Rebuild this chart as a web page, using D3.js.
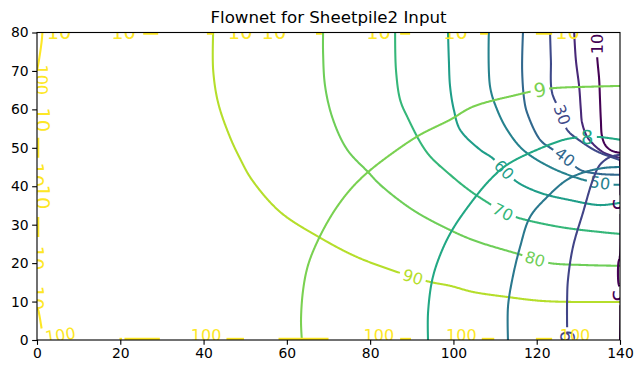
<!DOCTYPE html>
<html>
<head>
<meta charset="utf-8">
<script src="https://cdn.jsdelivr.net/npm/d3@7"></script>
<style>
  body { margin: 0; background: #fff; }
  svg { font-family: "DejaVu Sans", sans-serif; }
</style>
</head>
<body>
<svg id="chart" width="641" height="374"></svg>
<script>
// Axis ticks
const xTicks = [0, 20, 40, 60, 80, 100, 120, 140];
const yTicks = [0, 10, 20, 30, 40, 50, 60, 70, 80];

// Contour levels (two sets, each with its own viridis range)
const headLevels = [5, 6, 7, 8, 9, 10];
const streamLevels = [10, 20, 30, 40, 50, 60, 70, 80, 90, 100];

// Stream lines, points [x, y]
const stream10 = [[134.5, 80], [134.5, 74.1], [135.0, 67.7], [135.2, 62.5], [135.4, 57.3], [135.7, 52.9], [136.6, 50.5], [138.1, 49.2], [140, 48.7]];
const stream20 = [[129.0, 80], [129.4, 72.9], [130.2, 65.9], [130.6, 59.9], [130.9, 56.5], [132.1, 52.9], [134.0, 50.5], [135.9, 48.9], [138.1, 47.9], [140, 47.4]];
const stream30 = [[123.2, 80], [123.4, 72.9], [123.7, 64.3], [126.1, 58.6], [127.3, 54.7], [131.1, 51.3], [134.6, 49.0], [140, 46.8]];
const stream40 = [[116.7, 80], [116.5, 70.3], [117.0, 62.5], [117.7, 59.1], [120.8, 52.1], [123.5, 49.8], [126.8, 47.6], [130.4, 44.3], [135.2, 43.2], [140, 43.0]];
const stream50 = [[108.5, 80], [108.8, 65.9], [110.5, 59.9], [112.9, 54.7], [116.7, 49.5], [123.2, 45.0], [131.1, 41.7], [135.2, 40.9], [138.8, 40.4], [140, 40.4]];
const stream60 = [[98.7, 80], [98.9, 72.9], [99.2, 65.9], [100.1, 59.9], [101.6, 54.7], [106.4, 49.5], [109.3, 47.4], [112.2, 44.3], [115.3, 41.1], [120.8, 38.3], [128.0, 36.4], [135.2, 35.1], [140, 35.7]];
const stream70 = [[86.0, 80], [86.2, 70.3], [87.2, 62.5], [88.9, 58.1], [93.7, 48.7], [99.2, 43.0], [104.0, 38.8], [108.3, 35.7], [111.9, 33.3], [115.5, 31.8], [125.6, 29.4], [135.2, 28.1], [140, 27.6]];
const stream80 = [[68.7, 80], [68.7, 74.7], [69.2, 65.9], [71.1, 57.3], [74.5, 49.5], [79.5, 43.7], [82.4, 40.4], [90.3, 33.8], [99.2, 28.6], [105.2, 25.8], [115.5, 22.4], [119.6, 21.1], [123.2, 20.0], [131.6, 19.5], [140, 19.3]];
const stream90 = [[42.3, 80], [42.3, 70.3], [43.5, 61.7], [46.3, 52.9], [48.8, 47.1], [51.6, 41.7], [58.4, 33.3], [68.0, 26.6], [76.8, 21.6], [86.5, 17.7], [90.3, 16.4], [94.4, 15.1], [99.2, 14.1], [104.7, 12.5], [112.9, 11.2], [120.8, 10.2], [128.7, 9.9], [140, 9.9]];
const stream100Corner = [[0, 8.5], [0.3, 7.8], [1.1, 3.0]];

// Equipotential lines
const head5 = [[140, 47], [140, 22], [139.6, 20], [139.6, 15], [140, 13], [140, 0]];
const head6 = [[127.4, 0], [127.3, 3.6], [127.3, 10.4], [127.5, 15.6], [128.7, 24.2], [131.1, 33.1], [133.5, 41.7], [135.2, 45.6], [137.6, 47.6], [140, 48.2]];
const head7 = [[113.1, 0], [113.1, 8.6], [114.1, 15.6], [116.0, 24.2], [118.4, 32.0], [122.5, 37.2], [127.3, 41.7], [131.6, 43.7], [136.4, 44.8], [140, 45.0]];
const head8 = [[93.9, 0], [93.9, 7.0], [94.9, 15.6], [96.8, 22.1], [99.7, 28.6], [104.7, 36.4], [108.8, 41.7], [112.9, 45.6], [120.1, 49.5], [127.3, 52.3], [132.1, 52.8], [135.2, 52.8], [140, 52.1]];
const head9 = [[63.6, 0], [63.4, 5.2], [63.9, 13.0], [65.1, 19.5], [67.5, 26.0], [71.1, 33.1], [75.2, 39.1], [79.5, 43.7], [86.5, 49.5], [92.0, 53.4], [99.2, 57.3], [104.7, 60.7], [115.3, 63.8], [120.8, 65.1], [124.9, 65.6], [132.8, 65.9], [140, 66.1]];
const head10Corner = [[1.3, 80], [1.1, 77.5], [0.5, 73], [0, 70]];

// Inline label positions on the lines
const stream10Labels = [[134.5, 77.0]];
const stream30Labels = [[126.1, 58.6]];
const stream40Labels = [[126.8, 47.6]];
const stream50Labels = [[135.2, 40.9]];
const stream60Labels = [[112.2, 44.3]];
const stream70Labels = [[111.9, 33.3]];
const stream80Labels = [[119.6, 21.1]];
const stream90Labels = [[90.3, 16.4]];
const head5Labels = [[140, 35.2], [140, 11.5]];
const head6Labels = [[127.4, 0.9]];
const head8Labels = [[132.1, 52.8]];
const head9Labels = [[120.8, 65.1]];

// Boundary contours (10 along top/left, 100 along bottom/left): visible bits and labels
const topBits = [[25.5, 29.1], [40.8, 42.3], [67.0, 68.4], [87.2, 89.6], [106.4, 108.3], [119.8, 123.7]];
const bottomBits = [[19.8, 20.4], [21.0, 29.5], [45.5, 49.7], [58.0, 70.0], [87.2, 89.8], [106.8, 109.8], [119.8, 123.7]];
const leftBits = [[47.4, 52.6], [26.8, 32.0]];
const topLabelX = [5.3, 20.8, 48.8, 56.9, 82.0, 100.5, 127.4];
const bottomLabelX = [5.6, 40.6, 82.1, 101.9, 129.2];
const leftHeadLabelY = [[57.3, 1.5], [43.0, 0], [37.2, 1.5], [21.3, 0], [10.9, 0]];
const leftStreamLabelY = [[67.7, 1.2]];

const headFont = 19.4;
const streamFont = 16;
const lineWidth = 2.08;   // 1.5pt
const spineWidth = 1.11;  // 0.8pt

const svg = d3.select("#chart");
const x = d3.scaleLinear().domain([0, 140]).range([37, 620]);
const y = d3.scaleLinear().domain([0, 80]).range([340, 32.5]);

const streamColor = d3.scaleSequential(d3.interpolateViridis).domain(d3.extent(streamLevels));
const headColor = d3.scaleSequential(d3.interpolateViridis).domain(d3.extent(headLevels));

svg.append("defs").append("clipPath").attr("id", "plotclip")
    .append("rect")
    .attr("x", x(0)).attr("y", y(80))
    .attr("width", x(140) - x(0)).attr("height", y(0) - y(80));

const plot = svg.append("g").attr("clip-path", "url(#plotclip)");

function addLabel(px, py, ang, text, color, size) {
    plot.append("text")
        .attr("transform", `translate(${px},${py}) rotate(${ang})`)
        .attr("text-anchor", "middle")
        .attr("dy", "0.36em")
        .attr("font-size", size)
        .attr("fill", color)
        .text(text);
}

// draw one contour: smooth it, sample it and leave a gap where each label sits
function drawContour(pts, color, labels, text, size) {
    const smooth = d3.line().x(d => x(d[0])).y(d => y(d[1])).curve(d3.curveCatmullRom.alpha(0.5));
    const tmp = plot.append("path").attr("d", smooth(pts)).attr("fill", "none");
    const node = tmp.node();
    const len = node.getTotalLength();
    const samples = d3.range(0, len, 0.75).concat([len]).map(l => node.getPointAtLength(l));
    tmp.remove();

    const boxes = labels.map(p => {
        const px = x(p[0]), py = y(p[1]);
        let best = 0, bd = Infinity;
        samples.forEach((s, i) => {
            const d = (s.x - px) ** 2 + (s.y - py) ** 2;
            if (d < bd) { bd = d; best = i; }
        });
        const a = samples[Math.max(0, best - 8)];
        const b = samples[Math.min(samples.length - 1, best + 8)];
        let ang = Math.atan2(b.y - a.y, b.x - a.x) * 180 / Math.PI;
        if (ang > 90) ang -= 180;
        if (ang < -90) ang += 180;
        const w = text.length * 0.636 * size;
        return { px, py, ang, hw: w / 2 + 3, hh: size * 0.5 };
    });

    const inGap = s => boxes.some(b => {
        const r = b.ang * Math.PI / 180;
        const dx = s.x - b.px, dy = s.y - b.py;
        const u = dx * Math.cos(r) + dy * Math.sin(r);
        const v = -dx * Math.sin(r) + dy * Math.cos(r);
        return Math.abs(u) < b.hw && Math.abs(v) < b.hh;
    });

    plot.append("path")
        .attr("d", d3.line().defined(s => !inGap(s)).x(s => s.x).y(s => s.y)(samples))
        .attr("fill", "none")
        .attr("stroke", color)
        .attr("stroke-width", lineWidth);

    boxes.forEach(b => addLabel(b.px, b.py, b.ang, text, color, size));
}

const headTable = [
    [5, head5, head5Labels], [6, head6, head6Labels], [7, head7, []],
    [8, head8, head8Labels], [9, head9, head9Labels], [10, head10Corner, []]
];
const streamTable = [
    [10, stream10, stream10Labels], [20, stream20, []], [30, stream30, stream30Labels],
    [40, stream40, stream40Labels], [50, stream50, stream50Labels], [60, stream60, stream60Labels],
    [70, stream70, stream70Labels], [80, stream80, stream80Labels], [90, stream90, stream90Labels],
    [100, stream100Corner, []]
];

streamTable.forEach(([lvl, pts, labs]) => drawContour(pts, streamColor(lvl), labs, String(lvl), streamFont));
headTable.forEach(([lvl, pts, labs]) => drawContour(pts, headColor(lvl), labs, String(lvl), headFont));

// boundary contour pieces
const seg = d3.line().x(d => x(d[0])).y(d => y(d[1]));
const yellowHead = headColor(10), yellowStream = streamColor(100);
topBits.forEach(r => plot.append("path").attr("d", seg([[r[0], 79.7], [r[1], 79.7]]))
    .attr("stroke", yellowHead).attr("stroke-width", lineWidth));
bottomBits.forEach(r => plot.append("path").attr("d", seg([[r[0], 0.3], [r[1], 0.3]]))
    .attr("stroke", yellowStream).attr("stroke-width", lineWidth));
leftBits.forEach(r => plot.append("path").attr("d", seg([[0.3, r[0]], [0.3, r[1]]]))
    .attr("stroke", yellowHead).attr("stroke-width", lineWidth));

topLabelX.forEach(v => addLabel(x(v), y(80.2), 0, "10", yellowHead, headFont));
bottomLabelX.forEach((v, i) => addLabel(x(v), y(1.3), i === 0 ? -8 : 0, "100", yellowStream, streamFont));
leftHeadLabelY.forEach(([v, off]) => addLabel(x(off), y(v), 90, "10", yellowHead, headFont));
leftStreamLabelY.forEach(([v, off]) => addLabel(x(off), y(v), 90, "100", yellowStream, streamFont));

// axes
const xAxis = svg.append("g")
    .attr("transform", `translate(0,${y(0)})`)
    .call(d3.axisBottom(x).tickValues(xTicks).tickSize(4.86).tickPadding(3.5));
const yAxis = svg.append("g")
    .attr("transform", `translate(${x(0)},0)`)
    .call(d3.axisLeft(y).tickValues(yTicks).tickSize(4.86).tickPadding(3.5));
[xAxis, yAxis].forEach(g => {
    g.select(".domain").remove();
    g.selectAll("line").attr("stroke", "#000").attr("stroke-width", spineWidth);
    g.selectAll("text").attr("fill", "#000").attr("font-size", 13.9)
        .attr("font-family", "DejaVu Sans, sans-serif");
});

svg.append("rect")
    .attr("x", x(0)).attr("y", y(80))
    .attr("width", x(140) - x(0)).attr("height", y(0) - y(80))
    .attr("fill", "none").attr("stroke", "#000").attr("stroke-width", spineWidth);

svg.append("text")
    .attr("x", (x(0) + x(140)) / 2)
    .attr("y", 23.3)
    .attr("text-anchor", "middle")
    .attr("font-size", 16.67)
    .attr("fill", "#000")
    .text("Flownet for Sheetpile2 Input");
</script>
</body>
</html>
